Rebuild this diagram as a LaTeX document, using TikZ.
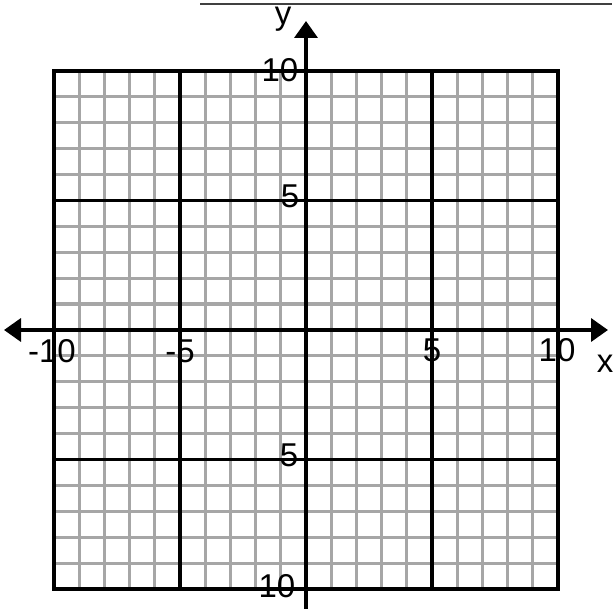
\documentclass[tikz,border=0pt]{standalone}
\usepackage{fontspec}
\setmainfont{Liberation Sans}
\usetikzlibrary{arrows.meta}
\begin{document}
\begin{tikzpicture}[x=1pt,y=-1pt,
  minorline/.style={draw=black!35,line width=3.2pt},
  majorline/.style={draw=black,line width=3.4pt},
  axisline/.style={draw=black,line width=3.6pt,{Triangle[length=17pt,width=23pt]}-{Triangle[length=17pt,width=23pt]}},
  ticklabel/.style={font=\fontsize{33}{33}\selectfont,inner sep=0pt,anchor=base},
  axislabel/.style={font=\fontsize{33}{33}\selectfont,inner sep=0pt,anchor=base}]
\useasboundingbox (0,0) rectangle (616,609);
\fill[white] (0,0) rectangle (616,609);
% top rule
\draw[black!75,line width=1.8pt] (200,4) -- (612,4);
% grid geometry: origin (306,330), unit x 25.2, unit y 25.9
\def\ox{306}\def\oy{330}\def\ux{25.2}\def\uy{25.9}
% minor grid
\foreach \i in {-9,...,9}{
  \draw[minorline] ({\ox+\i*\ux},{\oy-10*\uy}) -- ({\ox+\i*\ux},{\oy+10*\uy});
  \draw[minorline] ({\ox-10*\ux},{\oy+\i*\uy}) -- ({\ox+10*\ux},{\oy+\i*\uy});
}
% major grid
\foreach \i in {-10,-5,5,10}{
  \draw[majorline] ({\ox+\i*\ux},{\oy-10*\uy}) -- ({\ox+\i*\ux},{\oy+10*\uy});
  \draw[majorline] ({\ox-10*\ux},{\oy+\i*\uy}) -- ({\ox+10*\ux},{\oy+\i*\uy});
}
\draw[majorline,line cap=rect] ({\ox-10*\ux},{\oy-10*\uy}) rectangle ({\ox+10*\ux},{\oy+10*\uy});
% axes
\coordinate (xl) at (4,\oy);
\coordinate (xr) at (608,\oy);
\coordinate (yt) at (\ox,21);
\coordinate (yb) at (\ox,612);
\draw[axisline] (xl) -- (xr);
\draw[black,line width=3.6pt,-{Triangle[length=17pt,width=23pt]}] (yb) -- (yt);
% labels
\node[axislabel] (ylab) at (283,25) {y};
\node[axislabel] (xlab) at (605,373) {x};
\node[ticklabel] (ty10) at (280,82) {10};
\node[ticklabel] (ty5) at (290,208) {5};
\node[ticklabel] (tym5) at (289,467) {5};
\node[ticklabel] (tym10) at (277,597) {10};
\node[ticklabel] (txm10) at (52,363) {-10};
\node[ticklabel] (txm5) at (180,363) {-5};
\node[ticklabel] (tx5) at (432,362) {5};
\node[ticklabel] (tx10) at (557,362) {10};
\end{tikzpicture}
\end{document}
